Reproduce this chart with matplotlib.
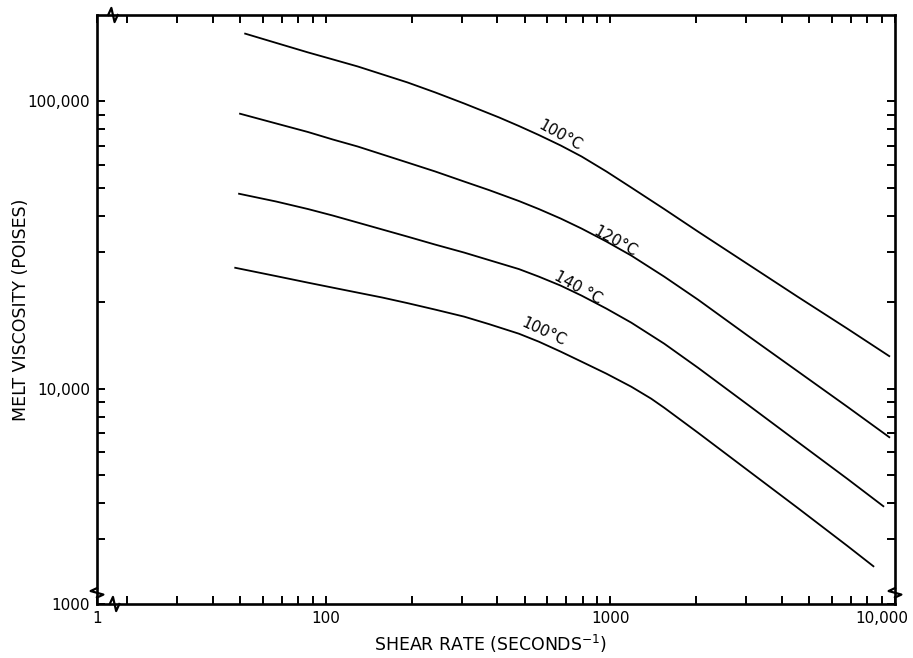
import matplotlib
matplotlib.use("Agg")
import matplotlib.pyplot as plt
import matplotlib.transforms as mtransforms
from matplotlib.ticker import FixedLocator, NullFormatter

# ---- data ----
a_x = [51.7, 66.9, 86.5, 105.8, 129.4, 158.2, 193.5, 242.4, 306.2, 405.9, 476.9, 560.2,
       668.7, 791.9, 968.3, 1184, 1545, 2031, 3038, 4543, 6795, 9605]
a_y = [172600, 159900, 148200, 140100, 132400, 124200, 116500, 107500, 98400, 88000, 82150,
       76430, 70270, 64330, 57040, 50150, 42220, 35240, 27150, 20920, 16190, 12930]

b_x = [49.6, 66.9, 86.5, 105.8, 129.4, 158.2, 193.5, 242.4, 306.2, 374.5, 476.9, 560.2,
       668.7, 791.9, 968.3, 1184, 1545, 2031, 3038, 4543, 6795, 9605]
b_y = [90810, 83830, 78290, 73720, 69690, 65370, 61310, 57040, 52630, 49150, 45020, 42220,
       39120, 36100, 32530, 29070, 24560, 20420, 15300, 11510, 8657, 6750]

c_x = [49.2, 66.9, 86.5, 105.8, 129.4, 158.2, 193.5, 242.4, 306.2, 374.5, 476.9, 560.2,
       668.7, 791.9, 968.3, 1184, 1545, 2031, 3038, 4543, 6795, 9153]
c_y = [47790, 44840, 42220, 40070, 37880, 35810, 33850, 31740, 29780, 28040, 26090, 24560,
       22850, 21090, 19000, 16980, 14350, 11830, 8797, 6535, 4858, 3881]

d_x = [47.7, 66.9, 86.5, 105.8, 129.4, 158.2, 193.5, 242.4, 306.2, 374.5, 476.9, 560.2,
       668.7, 791.9, 968.3, 1184, 1391, 1545, 2031, 3038, 4543, 6795, 8446]
d_y = [26400, 24660, 23400, 22480, 21600, 20760, 19860, 18850, 17820, 16780, 15540, 14580,
       13460, 12420, 11280, 10160, 9231, 8586, 7027, 5200, 3850, 2838, 2398]

curve_labels = ["100\u00b0C", "120\u00b0C", "140 \u00b0C", "100\u00b0C"]

x_tick_vals = [15.7, 100, 1000, 10000]
x_tick_labels = ["1", "100", "1000", "10,000"]
y_tick_vals = [1780, 10000, 100000]
y_tick_labels = ["1000", "10,000", "100,000"]

x_minor = [20, 30, 40, 50, 60, 70, 80, 90, 200, 300, 400, 500, 600, 700, 800, 900,
           2000, 3000, 4000, 5000, 6000, 7000, 8000, 9000]
y_minor = [3000, 4000, 5000, 6000, 7000, 8000, 9000,
           20000, 30000, 40000, 50000, 60000, 70000, 80000, 90000]

plt.rcParams['font.family'] = ['DejaVu Sans']

fig = plt.figure(figsize=(9.13, 6.58), dpi=100)
ax = fig.add_axes([97/913, 1-604/658, (895-97)/913, (604-15)/658])
ax.set_xscale('log')
ax.set_yscale('log')
ax.set_xlim(15.7, 10000)
ax.set_ylim(1780, 200000)

for xs, ys in [(a_x, a_y), (b_x, b_y), (c_x, c_y), (d_x, d_y)]:
    ax.plot(xs, ys, color='black', lw=1.3, solid_capstyle='butt', solid_joinstyle='round')

# curve labels
label_pos = [(664, 76100, -29), (1041, 32500, -29), (767, 22500, -29), (583, 15800, -25)]
for (lx, ly, rot), txt in zip(label_pos, curve_labels):
    ax.text(lx, ly, txt, rotation=rot, ha='center', va='center', fontsize=11,
            rotation_mode='anchor')

# ticks
ax.xaxis.set_major_locator(FixedLocator(x_tick_vals))
ax.set_xticklabels(x_tick_labels)
ax.xaxis.set_minor_locator(FixedLocator(x_minor))
ax.xaxis.set_minor_formatter(NullFormatter())
ax.yaxis.set_major_locator(FixedLocator(y_tick_vals))
ax.set_yticklabels(y_tick_labels)
ax.yaxis.set_minor_locator(FixedLocator(y_minor))
ax.yaxis.set_minor_formatter(NullFormatter())

ax.tick_params(which='both', direction='in', top=True, right=True,
               length=6, width=1.4, labelsize=11, pad=5)

for sp in ax.spines.values():
    sp.set_linewidth(1.9)

# shift the last x tick label left so it stays inside the figure (as in reference)
last = ax.get_xticklabels()[-1]
last.set_transform(last.get_transform() + mtransforms.ScaledTranslation(-13/100, 0, fig.dpi_scale_trans))

ax.set_xlabel("SHEAR RATE (SECONDS$^{-1}$)", fontsize=12.5, va='center')
ax.xaxis.set_label_coords((491-97)/798, -(644-604)/589)
ax.set_ylabel("MELT VISCOSITY (POISES)", fontsize=12.5, va='center')
ax.yaxis.set_label_coords(-(97-21)/798, 0.5)

# axis break marks (decorative)
def brk(x0, y0, horiz):
    if horiz:
        xs = [x0 - 0.006, x0 - 0.002, x0 + 0.002, x0 + 0.006]
        ys = [y0, y0 + 0.012, y0 - 0.012, y0]
    else:
        xs = [x0, x0 + 0.008, x0 - 0.008, x0]
        ys = [y0 - 0.008, y0 - 0.003, y0 + 0.003, y0 + 0.008]
    ax.plot(xs, ys, transform=ax.transAxes, color='black', lw=1.6, clip_on=False)

brk(0.022, 0.0, True)
brk(0.020, 1.0, True)
brk(0.0, 0.019, False)
brk(1.0, 0.019, False)

fig.savefig("out.png", dpi=100)
